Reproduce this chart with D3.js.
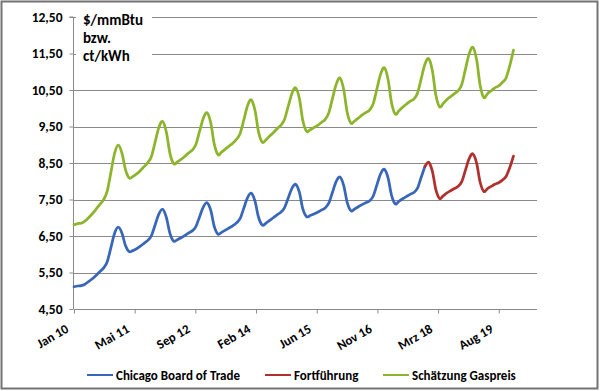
<!DOCTYPE html>
<html><head><meta charset="utf-8">
<script src="https://cdn.jsdelivr.net/npm/d3@7"></script>
<style>
html,body{margin:0;padding:0;background:#fff;}
svg text{font-family:Carlito, Lato, "Open Sans", sans-serif;font-weight:bold;fill:#000;}
</style></head>
<body>
<svg id="chart" width="600" height="391"></svg>
<script>
// ---- data ----
const blueValues = [ // Chicago Board of Trade, monthly Jan 2010 – Dec 2017
  5.11,5.13,5.14,5.18,5.25,5.33,5.42,5.52,5.62,5.79,6.18,6.57,
  6.74,6.57,6.24,6.07,6.10,6.15,6.22,6.30,6.38,6.51,6.81,7.10,
  7.23,7.01,6.58,6.36,6.40,6.45,6.51,6.58,6.64,6.76,7.03,7.29,
  7.41,7.20,6.77,6.55,6.60,6.66,6.72,6.78,6.86,6.98,7.27,7.55,
  7.67,7.45,7.02,6.80,6.85,6.93,7.00,7.08,7.15,7.27,7.54,7.80,
  7.92,7.70,7.25,7.03,7.06,7.10,7.15,7.21,7.27,7.40,7.70,7.99,
  8.12,7.89,7.42,7.19,7.24,7.30,7.36,7.41,7.46,7.59,7.90,8.20,
  8.33,8.09,7.62,7.38,7.45,7.52,7.58,7.64,7.69,7.81,8.11,8.40
];
const redStartMonth = 95; // Dec 2017
const redValues = [ // Fortführung, Dec 2017 – Dec 2019
  8.40,
  8.52,8.27,7.78,7.53,7.60,7.68,7.74,7.80,7.86,7.99,8.31,8.62,
  8.75,8.49,7.98,7.72,7.80,7.86,7.92,7.96,8.03,8.13,8.38,8.69
];
const greenValues = [ // Schätzung Gaspreis, Jan 2010 – Dec 2019
  6.81,6.84,6.85,6.91,7.00,7.11,7.23,7.36,7.49,7.72,8.24,8.76,
  8.99,8.76,8.32,8.09,8.13,8.20,8.29,8.40,8.51,8.68,9.08,9.47,
  9.64,9.35,8.77,8.48,8.53,8.60,8.68,8.77,8.85,9.01,9.37,9.72,
  9.88,9.60,9.03,8.73,8.80,8.88,8.96,9.04,9.15,9.31,9.69,10.07,
  10.23,9.93,9.36,9.07,9.13,9.24,9.33,9.44,9.53,9.69,10.05,10.40,
  10.56,10.27,9.67,9.37,9.41,9.47,9.53,9.61,9.69,9.87,10.27,10.65,
  10.83,10.52,9.89,9.59,9.65,9.73,9.81,9.88,9.95,10.12,10.53,10.93,
  11.11,10.79,10.16,9.84,9.93,10.03,10.11,10.19,10.25,10.41,10.81,11.20,
  11.36,11.03,10.37,10.04,10.13,10.24,10.32,10.40,10.48,10.65,11.08,11.49,
  11.67,11.32,10.64,10.29,10.40,10.48,10.56,10.61,10.71,10.83,11.17,11.59
];
const xTickDayOffsets = [0,500,1000,1500,2000,2500,3000,3500];
const xTickLabels = ["Jan 10","Mai 11","Sep 12","Feb 14","Jun 15","Nov 16","Mrz 18","Aug 19"];
const xDomainDays = 3815;
const yTicks = [4.5,5.5,6.5,7.5,8.5,9.5,10.5,11.5,12.5];
const yTickLabels = ["4,50","5,50","6,50","7,50","8,50","9,50","10,50","11,50","12,50"];
const unitLines = ["$/mmBtu","bzw.","ct/kWh"];
const seriesNames = ["Chicago Board of Trade","Fortführung","Schätzung Gaspreis"];
const seriesColors = ["#3866B8","#B0302E","#8CB52C"];

// ---- helpers ----
const t0 = new Date(2010,0,1);
const addDays = d => new Date(t0.getTime() + d*86400000);
const monthDate = m => new Date(2010, m, 1);

const svg = d3.select("#chart");
const L = 74, R = 537, T = 17, B = 309;

// outer frame
svg.append("rect").attr("x",1.5).attr("y",1.5).attr("width",596).attr("height",387)
  .attr("fill","#fff").attr("stroke","#737373").attr("stroke-width",2);

const x = d3.scaleTime().domain([t0, addDays(xDomainDays)]).range([L, R]);
const y = d3.scaleLinear().domain([4.5,12.5]).range([B, T]);

// gridlines
svg.append("g").selectAll("line").data(yTicks.slice(1)).join("line")
  .attr("x1",L).attr("x2",R).attr("y1",d=>Math.round(y(d))+0.5).attr("y2",d=>Math.round(y(d))+0.5)
  .attr("stroke","#8a8a8a").attr("stroke-width",1);

// y axis
const yAxis = d3.axisLeft(y).tickValues(yTicks).tickSize(4).tickPadding(7)
  .tickFormat((d,i)=>yTickLabels[i]);
const gy = svg.append("g").attr("transform",`translate(${L-0.5},0)`).call(yAxis);
gy.select(".domain").attr("stroke","#8a8a8a").attr("d",`M-4,${y(12.5)}H0V${B}`);
gy.selectAll(".tick line").attr("stroke","#8a8a8a");
gy.selectAll(".tick text").attr("font-size",13.5).attr("font-family",null);

// x axis
const tickDates = xTickDayOffsets.map(addDays);
const xAxis = d3.axisBottom(x).tickValues(tickDates).tickSize(4)
  .tickFormat((d,i)=>xTickLabels[i]);
const gx = svg.append("g").attr("transform",`translate(0,${B+0.5})`).call(xAxis);
gx.select(".domain").attr("stroke","#8a8a8a").attr("d",`M${L},0H${R}`);
gx.selectAll(".tick line").attr("stroke","#8a8a8a");
gx.selectAll(".tick text").attr("font-size",13).attr("font-weight","normal").attr("font-family",null)
  .attr("text-anchor","end").attr("dy",null).attr("y",null)
  .attr("transform","translate(-5,22) rotate(-30)");

// unit label box
const ub = svg.append("g");
ub.append("rect").attr("x",76).attr("y",8).attr("width",76).attr("height",56).attr("fill","#fff");
ub.selectAll("text").data(unitLines).join("text")
  .attr("x",83).attr("y",(d,i)=>25+i*18).attr("font-size",15).text(d=>d);

// lines
const line = d3.line().x(d=>x(d[0])).y(d=>y(d[1])).curve(d3.curveCardinal.tension(0));
const blueData = blueValues.map((v,i)=>[monthDate(i),v]);
const redData = redValues.map((v,i)=>[monthDate(redStartMonth+i),v]);
const greenData = greenValues.map((v,i)=>[monthDate(i),v]);
[[greenData,2],[blueData,0],[redData,1]].forEach(([data,ci])=>{
  svg.append("path").datum(data).attr("d",line).attr("fill","none")
    .attr("stroke",seriesColors[ci]).attr("stroke-width",2.75).attr("stroke-linejoin","round").attr("stroke-linecap","round");
});

// legend
const legendX = [87,265,383];
const lg = svg.append("g");
seriesNames.forEach((n,i)=>{
  lg.append("line").attr("x1",legendX[i]).attr("x2",legendX[i]+26).attr("y1",375).attr("y2",375)
    .attr("stroke",seriesColors[i]).attr("stroke-width",2);
  lg.append("text").attr("x",legendX[i]+29).attr("y",379.5).attr("font-size",13).text(n);
});
</script>
</body></html>
